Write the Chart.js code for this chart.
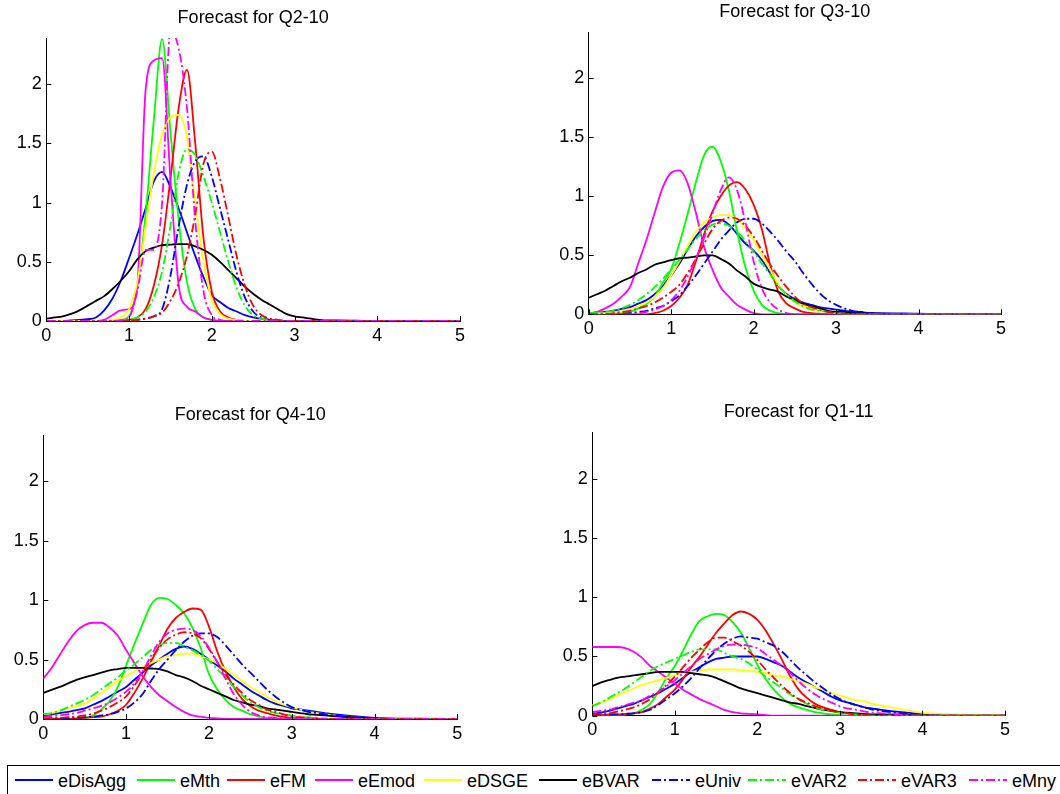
<!DOCTYPE html>
<html>
<head>
<meta charset="utf-8">
<title>Forecast densities</title>
<script src="https://cdn.jsdelivr.net/npm/chart.js@4.4.1/dist/chart.umd.min.js"></script>
<style>
  body { margin: 0; background: #fff; width: 1060px; height: 794px; overflow: hidden; position: relative;
         font-family: "Liberation Sans", Arial, sans-serif; }
  canvas.panel { position: absolute; }
  #legend { position: absolute; left: 7px; top: 765px; width: 1070px; height: 40px; border: 1px solid #000; }
  .item { position: absolute; top: 3px; height: 22px; display: flex; align-items: center; white-space: nowrap; }
  .item svg { margin-right: 5px; }
  .item span { font-size: 18px; line-height: 22px; color: #000; position: relative; top: 1px; }
</style>
</head>
<body>
<canvas id="p1" class="panel" width="530" height="380" style="left:0;top:0"></canvas>
<canvas id="p2" class="panel" width="530" height="380" style="left:530px;top:0"></canvas>
<canvas id="p3" class="panel" width="530" height="375" style="left:0;top:380px"></canvas>
<canvas id="p4" class="panel" width="530" height="375" style="left:530px;top:380px"></canvas>
<div id="legend"></div>

<script>
// density grid (growth rate, %)
const xGrid = [0,0.1,0.2,0.3,0.4,0.5,0.6,0.7,0.8,0.9,1,1.1,1.2,1.3,1.4,1.5,1.6,1.7,1.8,1.9,
               2,2.1,2.2,2.3,2.4,2.5,2.6,2.7,2.8,2.9,3,3.1,3.2,3.3,3.4,3.5,4,4.5,5];

const seriesNames = ['eDisAgg','eMth','eFM','eEmod','eDSGE','eBVAR','eUniv','eVAR2','eVAR3','eMny'];
const panelTitles = ['Forecast for Q2-10','Forecast for Q3-10','Forecast for Q4-10','Forecast for Q1-11'];
const xTicks = [0,1,2,3,4,5];
const yTicks = [0,0.5,1,1.5,2];

// rows follow seriesNames, columns follow xGrid
const q2_10 = [
  [0,0,0,0.005,0.01,0.015,0.03,0.09,0.19,0.34, 0.53,0.73,0.95,1.18,1.26,1.13,0.95,0.75,0.55,0.37, 0.22,0.16,0.11,0.08,0.05,0.03,0.02,0.01,0.005,0, 0,0,0,0,0,0, 0,0,0],
  [0,0,0,0,0,0,0,0,0,0.01, 0.04,0.3,0.9,1.7,2.38,1.6,0.85,0.33,0.1,0.03, 0.01,0,0,0,0,0,0,0,0,0, 0,0,0,0,0,0, 0,0,0],
  [0,0,0,0,0,0,0,0,0,0, 0.01,0.03,0.1,0.3,0.65,1.2,1.8,2.12,1.5,0.7, 0.25,0.08,0.03,0.01,0,0,0,0,0,0, 0,0,0,0,0,0, 0,0,0],
  [0,0,0,0,0,0,0,0.01,0.05,0.09, 0.1,0.3,1.95,2.2,2.22,1.2,0.3,0.12,0.08,0.03, 0.01,0,0,0,0,0,0,0,0,0, 0,0,0,0,0,0, 0,0,0],
  [0,0,0,0,0,0,0,0,0.01,0.03, 0.1,0.33,0.8,1.25,1.58,1.72,1.74,1.55,1.0,0.5, 0.18,0.06,0.02,0.01,0,0,0,0,0,0, 0,0,0,0,0,0, 0,0,0],
  [0.02,0.03,0.04,0.06,0.09,0.13,0.17,0.21,0.27,0.34, 0.42,0.52,0.59,0.62,0.64,0.645,0.65,0.65,0.63,0.6, 0.56,0.5,0.43,0.36,0.29,0.23,0.18,0.14,0.1,0.06, 0.04,0.03,0.02,0.01,0.005,0.005, 0,0,0],
  [0,0,0,0,0,0,0,0,0,0, 0,0.01,0.02,0.04,0.1,0.38,0.8,1.15,1.35,1.39, 1.22,0.95,0.68,0.41,0.2,0.08,0.03,0.01,0,0, 0,0,0,0,0,0, 0,0,0],
  [0,0,0,0,0,0,0,0,0,0, 0.01,0.03,0.08,0.2,0.42,0.8,1.25,1.45,1.4,1.22, 1.0,0.75,0.5,0.28,0.13,0.05,0.02,0.01,0,0, 0,0,0,0,0,0, 0,0,0],
  [0,0,0,0,0,0,0,0,0,0, 0.005,0.01,0.02,0.04,0.07,0.17,0.32,0.55,0.9,1.33, 1.43,1.2,0.88,0.55,0.3,0.13,0.05,0.02,0.01,0, 0,0,0,0,0,0, 0,0,0],
  [0,0,0,0,0,0,0,0,0,0.005, 0.03,0.25,0.6,0.6,1.0,2.45,2.3,1.8,0.85,0.25, 0.05,0.01,0,0,0,0,0,0,0,0, 0,0,0,0,0,0, 0,0,0]
];

const q3_10 = [
  [0.01,0.015,0.02,0.03,0.045,0.06,0.09,0.12,0.17,0.24, 0.33,0.43,0.55,0.66,0.74,0.79,0.8,0.76,0.68,0.6, 0.54,0.46,0.35,0.24,0.17,0.13,0.1,0.08,0.06,0.05, 0.04,0.03,0.02,0.02,0.01,0.01, 0.005,0,0],
  [0,0,0,0,0.01,0.02,0.05,0.09,0.15,0.27, 0.38,0.6,0.85,1.12,1.35,1.42,1.3,1.05,0.7,0.4, 0.2,0.08,0.03,0.01,0,0,0,0,0,0, 0,0,0,0,0,0, 0,0,0],
  [0,0,0,0,0,0,0,0,0.01,0.03, 0.07,0.14,0.25,0.45,0.68,0.87,1.0,1.09,1.12,1.06, 0.93,0.72,0.42,0.19,0.09,0.05,0.02,0.01,0.005,0, 0,0,0,0,0,0, 0,0,0],
  [0.005,0.02,0.05,0.09,0.15,0.23,0.43,0.63,0.86,1.08, 1.2,1.22,1.11,0.86,0.57,0.38,0.23,0.15,0.08,0.04, 0.01,0,0,0,0,0,0,0,0,0, 0,0,0,0,0,0, 0,0,0],
  [0.005,0.008,0.01,0.015,0.025,0.04,0.07,0.1,0.15,0.22, 0.33,0.45,0.58,0.7,0.78,0.82,0.84,0.84,0.8,0.73, 0.63,0.5,0.38,0.25,0.16,0.1,0.07,0.05,0.03,0.02, 0.01,0.005,0,0,0,0, 0,0,0],
  [0.14,0.17,0.2,0.24,0.28,0.31,0.35,0.38,0.42,0.44, 0.46,0.475,0.48,0.49,0.5,0.5,0.47,0.43,0.37,0.32, 0.26,0.23,0.21,0.19,0.15,0.12,0.09,0.07,0.05,0.03, 0.02,0.02,0.01,0.01,0.01,0.005, 0,0,0],
  [0,0,0,0,0.005,0.01,0.02,0.03,0.05,0.07, 0.11,0.16,0.24,0.33,0.43,0.53,0.63,0.71,0.78,0.81, 0.81,0.77,0.7,0.62,0.53,0.45,0.35,0.26,0.18,0.12, 0.08,0.05,0.03,0.02,0.01,0.005, 0,0,0],
  [0.01,0.015,0.02,0.03,0.05,0.08,0.12,0.17,0.23,0.3, 0.38,0.46,0.55,0.64,0.71,0.76,0.77,0.75,0.7,0.62, 0.53,0.43,0.34,0.24,0.17,0.11,0.07,0.04,0.03,0.02, 0.01,0.005,0,0,0,0, 0,0,0],
  [0,0,0,0.01,0.02,0.03,0.05,0.07,0.1,0.14, 0.19,0.25,0.35,0.47,0.6,0.72,0.79,0.82,0.81,0.75, 0.66,0.54,0.42,0.32,0.23,0.15,0.09,0.06,0.04,0.02, 0.01,0.005,0,0,0,0, 0,0,0],
  [0,0,0,0,0,0,0.01,0.02,0.04,0.07, 0.12,0.2,0.32,0.47,0.65,0.85,1.05,1.16,1.05,0.78, 0.45,0.22,0.1,0.04,0.01,0,0,0,0,0, 0,0,0,0,0,0, 0,0,0]
];

const q4_10 = [
  [0.03,0.04,0.05,0.06,0.075,0.09,0.12,0.15,0.19,0.23, 0.27,0.33,0.39,0.45,0.5,0.55,0.59,0.61,0.59,0.55, 0.5,0.45,0.4,0.34,0.29,0.24,0.2,0.16,0.13,0.11, 0.09,0.08,0.07,0.06,0.05,0.04, 0.01,0.002,0],
  [0,0,0,0,0,0.01,0.03,0.08,0.15,0.27, 0.45,0.63,0.8,0.96,1.02,1.01,0.96,0.89,0.77,0.6, 0.38,0.25,0.16,0.1,0.07,0.04,0.02,0.01,0.005,0, 0,0,0,0,0,0, 0,0,0],
  [0,0,0,0,0.005,0.01,0.015,0.02,0.04,0.07, 0.12,0.22,0.34,0.48,0.62,0.76,0.85,0.9,0.93,0.92, 0.78,0.57,0.4,0.27,0.17,0.11,0.07,0.05,0.03,0.02, 0.01,0.005,0,0,0,0, 0,0,0],
  [0.34,0.43,0.54,0.65,0.74,0.79,0.81,0.81,0.77,0.7, 0.58,0.47,0.36,0.27,0.2,0.15,0.1,0.06,0.03,0.02, 0.01,0.005,0,0,0,0,0,0,0,0, 0,0,0,0,0,0, 0,0,0],
  [0.04,0.05,0.07,0.09,0.11,0.13,0.17,0.22,0.27,0.32, 0.36,0.4,0.44,0.47,0.5,0.53,0.54,0.55,0.55,0.53, 0.5,0.47,0.42,0.37,0.32,0.27,0.23,0.19,0.15,0.12, 0.1,0.08,0.06,0.05,0.04,0.03, 0.005,0,0],
  [0.22,0.245,0.27,0.3,0.33,0.35,0.37,0.39,0.41,0.42, 0.43,0.43,0.43,0.425,0.42,0.4,0.37,0.35,0.32,0.28, 0.25,0.22,0.19,0.16,0.14,0.12,0.11,0.09,0.08,0.07, 0.06,0.05,0.04,0.035,0.03,0.025, 0.005,0,0],
  [0.005,0.005,0.005,0.01,0.01,0.015,0.02,0.03,0.04,0.06, 0.09,0.14,0.21,0.32,0.42,0.5,0.58,0.65,0.7,0.72, 0.72,0.69,0.62,0.54,0.46,0.39,0.32,0.25,0.19,0.14, 0.1,0.08,0.06,0.05,0.04,0.03, 0.005,0,0],
  [0.04,0.05,0.07,0.1,0.13,0.16,0.2,0.25,0.3,0.35, 0.41,0.46,0.52,0.58,0.62,0.64,0.64,0.61,0.58,0.54, 0.49,0.42,0.35,0.27,0.2,0.14,0.1,0.07,0.05,0.04, 0.03,0.02,0.015,0.01,0.005,0, 0,0,0],
  [0.005,0.008,0.01,0.015,0.02,0.03,0.045,0.07,0.1,0.14, 0.19,0.28,0.39,0.5,0.6,0.67,0.71,0.73,0.72,0.68, 0.59,0.48,0.37,0.29,0.22,0.16,0.12,0.08,0.06,0.04, 0.02,0.015,0.01,0.005,0,0, 0,0,0],
  [0.02,0.025,0.03,0.04,0.05,0.07,0.09,0.11,0.14,0.18, 0.23,0.3,0.4,0.53,0.65,0.72,0.75,0.76,0.75,0.7, 0.6,0.48,0.34,0.21,0.12,0.06,0.03,0.015,0.01,0.005, 0,0,0,0,0,0, 0,0,0]
];

const q1_11 = [
  [0.015,0.025,0.04,0.06,0.08,0.1,0.13,0.16,0.19,0.23, 0.27,0.32,0.37,0.41,0.45,0.48,0.49,0.5,0.5,0.5, 0.5,0.48,0.45,0.42,0.37,0.32,0.28,0.24,0.2,0.16, 0.13,0.11,0.09,0.07,0.06,0.05, 0.015,0.005,0],
  [0,0,0,0.005,0.01,0.02,0.05,0.1,0.2,0.32, 0.42,0.55,0.69,0.8,0.84,0.86,0.85,0.79,0.7,0.57, 0.43,0.31,0.22,0.15,0.1,0.07,0.05,0.03,0.02,0.01, 0.005,0,0,0,0,0, 0,0,0],
  [0.005,0.005,0.01,0.01,0.015,0.02,0.03,0.06,0.1,0.16, 0.22,0.31,0.41,0.5,0.6,0.7,0.78,0.85,0.88,0.86, 0.81,0.72,0.6,0.47,0.33,0.22,0.15,0.1,0.07,0.05, 0.03,0.02,0.01,0.005,0,0, 0,0,0],
  [0.58,0.58,0.58,0.58,0.57,0.54,0.49,0.42,0.37,0.32, 0.27,0.22,0.18,0.14,0.11,0.08,0.05,0.03,0.02,0.015, 0.01,0.005,0,0,0,0,0,0,0,0, 0,0,0,0,0,0, 0,0,0],
  [0.09,0.11,0.14,0.17,0.2,0.23,0.26,0.28,0.3,0.32, 0.34,0.36,0.37,0.38,0.39,0.39,0.39,0.39,0.385,0.38, 0.37,0.36,0.34,0.33,0.31,0.29,0.27,0.24,0.22,0.19, 0.17,0.15,0.13,0.12,0.1,0.085, 0.025,0.01,0.005],
  [0.25,0.28,0.3,0.32,0.33,0.34,0.35,0.36,0.37,0.37, 0.37,0.37,0.36,0.35,0.34,0.32,0.29,0.26,0.23,0.21, 0.19,0.17,0.15,0.13,0.11,0.1,0.08,0.065,0.05,0.04, 0.03,0.025,0.02,0.015,0.01,0.01, 0.005,0,0],
  [0.005,0.005,0.01,0.01,0.015,0.02,0.03,0.05,0.09,0.14, 0.19,0.25,0.32,0.4,0.48,0.55,0.61,0.65,0.67,0.66, 0.65,0.62,0.59,0.54,0.47,0.4,0.34,0.28,0.23,0.18, 0.14,0.11,0.09,0.07,0.05,0.04, 0.005,0,0],
  [0.08,0.11,0.15,0.19,0.23,0.28,0.33,0.38,0.42,0.45, 0.48,0.51,0.54,0.56,0.56,0.56,0.53,0.5,0.48,0.44, 0.39,0.33,0.28,0.23,0.18,0.14,0.1,0.07,0.05,0.035, 0.025,0.015,0.01,0.005,0,0, 0,0,0],
  [0.01,0.015,0.02,0.035,0.05,0.07,0.1,0.14,0.2,0.26, 0.33,0.41,0.49,0.56,0.62,0.66,0.66,0.63,0.59,0.54, 0.47,0.39,0.32,0.25,0.19,0.14,0.11,0.08,0.06,0.04, 0.03,0.02,0.01,0.005,0,0, 0,0,0],
  [0.03,0.04,0.05,0.07,0.09,0.11,0.13,0.17,0.2,0.25, 0.3,0.36,0.42,0.48,0.52,0.56,0.59,0.6,0.6,0.59, 0.57,0.52,0.47,0.42,0.36,0.29,0.23,0.18,0.14,0.11, 0.08,0.06,0.05,0.035,0.025,0.02, 0,0,0]
];

const colors = ['#0000ff','#00ff00','#ff0000','#ff00ff','#ffff00','#000000','#0000ff','#00ff00','#ff0000','#ff00ff'];
const dashDot = [9, 3, 2, 3];
const FONT = '"Liberation Sans", Arial, sans-serif';

// ticks drawn inside the axes, matlab style
const inwardTicks = {
  id: 'inwardTicks',
  afterDraw(chart) {
    const { ctx, chartArea: a, scales: { x, y } } = chart;
    ctx.save();
    ctx.strokeStyle = '#000';
    ctx.lineWidth = 1;
    ctx.beginPath();
    x.ticks.forEach(t => {
      const px = Math.round(x.getPixelForValue(t.value)) + 0.5;
      ctx.moveTo(px, a.bottom);
      ctx.lineTo(px, a.bottom - 5);
    });
    y.ticks.forEach(t => {
      const py = Math.round(y.getPixelForValue(t.value)) + 0.5;
      ctx.moveTo(a.left, py);
      ctx.lineTo(a.left + 5, py);
    });
    ctx.stroke();
    ctx.restore();
  }
};

// yw: width given to the y axis, padR/padB: space right and below the plot, titleTop: gap above the title
const boxes = [
  { id: 'p1', yw: 46.3, padR: 70,   padB: 29,   titleTop: 7 },
  { id: 'p2', yw: 58.7, padR: 59,   padB: 35.7, titleTop: 1.3 },
  { id: 'p3', yw: 43.3, padR: 72.7, padB: 6,    titleTop: 24 },
  { id: 'p4', yw: 62.3, padR: 55,   padB: 9.3,  titleTop: 21.7 }
];
const panels = [q2_10, q3_10, q4_10, q1_11];

function makePanel(box, title, rows) {
  const datasets = seriesNames.map((name, i) => ({
    label: name,
    data: xGrid.map((x, j) => ({ x: x, y: rows[i][j] })),
    borderColor: colors[i],
    borderWidth: 1.8,
    borderDash: i >= 6 ? dashDot : [],
    pointRadius: 0,
    fill: false,
    cubicInterpolationMode: 'monotone',
    order: seriesNames.length - i
  }));

  return new Chart(document.getElementById(box.id), {
    type: 'line',
    data: { datasets: datasets },
    options: {
      responsive: false,
      animation: false,
      events: [],
      layout: { padding: { left: 0, right: box.padR, top: 0, bottom: box.padB } },
      plugins: {
        legend: { display: false },
        tooltip: { enabled: false },
        title: {
          display: true,
          text: title,
          fullSize: false,
          color: '#000',
          font: { family: FONT, size: 18, weight: 'normal' },
          padding: { top: box.titleTop, bottom: 9.4 }
        }
      },
      scales: {
        x: {
          type: 'linear',
          min: 0, max: 5,
          afterFit: s => { s.height = 30; },
          afterBuildTicks: s => { s.ticks = xTicks.map(v => ({ value: v })); },
          grid: { display: false, drawTicks: false },
          border: { display: true, color: '#000', width: 1 },
          ticks: { color: '#000', font: { family: FONT, size: 18 }, padding: 4, maxRotation: 0,
                   callback: v => String(v) }
        },
        y: {
          type: 'linear',
          min: 0, max: 2.39,
          afterFit: s => { s.width = box.yw; },
          afterBuildTicks: s => { s.ticks = yTicks.map(v => ({ value: v })); },
          grid: { display: false, drawTicks: false },
          border: { display: true, color: '#000', width: 1 },
          ticks: { color: '#000', font: { family: FONT, size: 18 }, padding: 4.5,
                   callback: v => String(v) }
        }
      }
    },
    plugins: [inwardTicks]
  });
}

boxes.forEach((b, k) => makePanel(b, panelTitles[k], panels[k]));

// legend strip along the bottom
const legendX = [15, 137, 227, 315, 424, 539, 652, 748, 858, 969];
const legend = document.getElementById('legend');
seriesNames.forEach((name, i) => {
  const item = document.createElement('div');
  item.className = 'item';
  item.style.left = (legendX[i] - 8) + 'px';
  const dash = i >= 6 ? ' stroke-dasharray="' + dashDot.join(' ') + '"' : '';
  item.innerHTML =
    '<svg width="38" height="6"><line x1="0" y1="3" x2="38" y2="3" stroke="' + colors[i] +
    '" stroke-width="1.8"' + dash + '/></svg><span>' + name + '</span>';
  legend.appendChild(item);
});
</script>
</body>
</html>
